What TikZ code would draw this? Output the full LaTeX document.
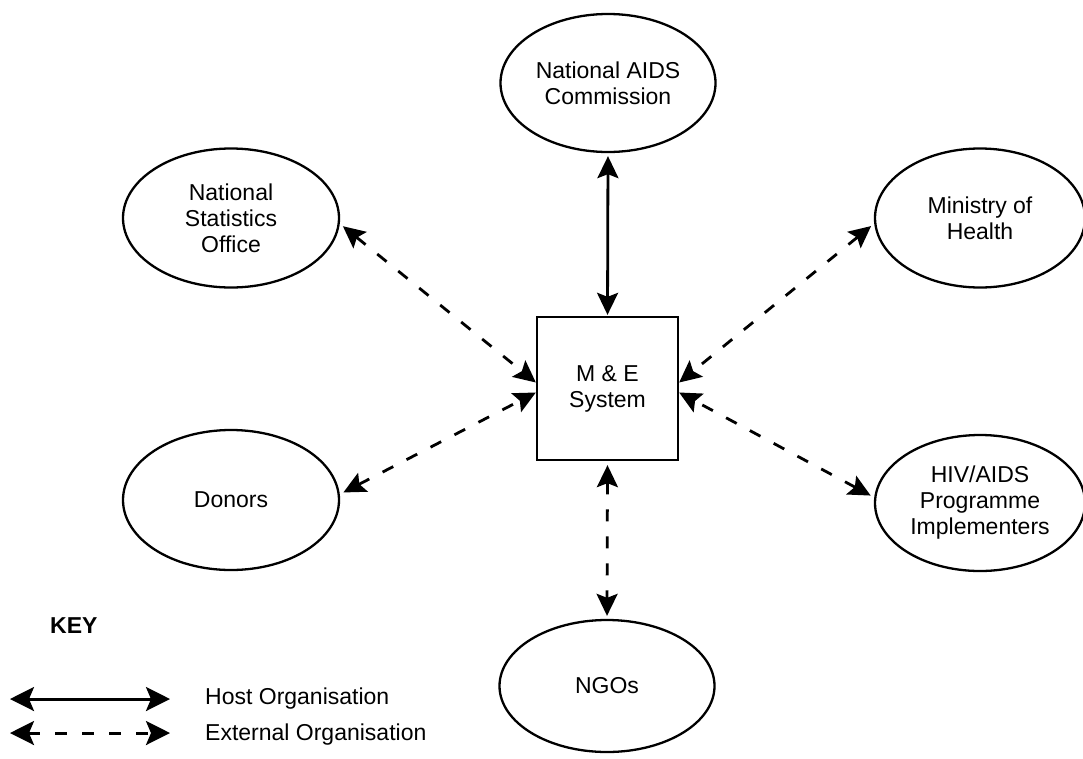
\documentclass[tikz,border=0pt]{standalone}
\usepackage{fontspec}
\setmainfont{Liberation Sans}
\usetikzlibrary{shapes.geometric,arrows.meta,calc}
\tikzset{
  linkhead/.tip={Stealth[length=22pt,width=21pt,inset=4pt]},
  keyhead/.tip={Stealth[length=24pt,width=24pt,inset=5pt]},
}
\begin{document}
\begin{tikzpicture}[x=1pt,y=-1pt,
  txt/.style={font=\fontsize{23}{26}\selectfont},
  org/.style={txt,draw,ellipse,line width=2.3pt,inner sep=0pt,
    minimum width=216pt,minimum height=138pt,align=center},
  sysbox/.style={txt,draw,rectangle,line width=2.3pt,inner sep=0pt,
    minimum width=141pt,minimum height=143pt,align=center},
  hostlink/.style={line width=2.8pt,linkhead-linkhead},
  extlink/.style={line width=2.8pt,linkhead-linkhead,dash pattern=on 12pt off 15pt},
  keyhost/.style={line width=3pt,keyhead-keyhead},
  keyext/.style={line width=3pt,keyhead-keyhead,dash pattern=on 12pt off 15pt},
]
\useasboundingbox (0,0) rectangle (1083,758);

% central system and the organisations around it
\node[sysbox] (me) at (607.5,388.5) {M \& E\\System};
\node[org,minimum width=215pt] (nac) at (608,83) {National AIDS\\Commission};
\node[org,minimum height=139pt] (nso) at (231,218) {National\\Statistics\\Office};
\node[org,minimum width=210pt,minimum height=139pt] (moh) at (980,218) {Ministry of\\Health};
\node[org,minimum height=140pt] (don) at (231,500) {Donors};
\node[org,minimum width=210pt,minimum height=136pt] (hiv) at (980,503) {HIV/AIDS\\Programme\\Implementers};
\node[org,minimum width=215pt,minimum height=132pt] (ngo) at (607,686) {NGOs};

% arrival points on the sides of the box
\coordinate (mw1) at ($(me.west)+(0,-6)$);
\coordinate (mw2) at ($(me.west)+(0,4)$);
\coordinate (me1) at ($(me.east)+(0,-6)$);
\coordinate (me2) at ($(me.east)+(0,4)$);

% links
\draw[hostlink,shorten <=3pt,shorten >=1pt] (nac.south) -- (me.north);
\draw[extlink,shorten <=4pt] (nso.-3) -- (mw1);
\draw[extlink,shorten <=4pt] (don.3) -- (mw2);
\draw[extlink,shorten <=4pt] (moh.183) -- (me1);
\draw[extlink,shorten <=4pt] (hiv.177) -- (me2);
\draw[extlink,shorten <=4pt,shorten >=3pt] (me.south) -- (ngo.north);

% key
\node[txt,font=\fontsize{23}{26}\selectfont\bfseries,anchor=west,inner sep=0pt] (key) at (50,626) {KEY};
\coordinate (h1) at (10,699);
\coordinate (h2) at (170,699);
\draw[keyhost] (h1) -- (h2);
\node[txt,anchor=west,inner sep=0pt] (hostlbl) at (205,699) {Host Organisation};
\coordinate (e1) at (10,733);
\coordinate (e2) at (170,733);
\draw[keyext] (e1) -- (e2);
\node[txt,anchor=west,inner sep=0pt] (extlbl) at (205,735) {External Organisation};
\end{tikzpicture}
\end{document}
